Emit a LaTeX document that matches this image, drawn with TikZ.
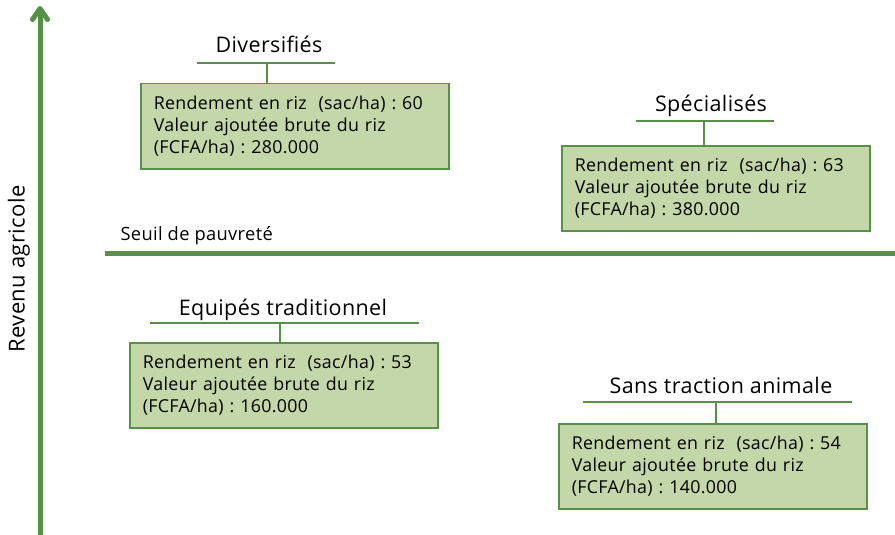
\documentclass[tikz,border=0pt]{standalone}
\usepackage{fontspec}
\setmainfont{Open Sans}[LetterSpace=1.8]
\usetikzlibrary{arrows.meta}
\definecolor{vert}{HTML}{559245}
\definecolor{fond}{HTML}{C4D7A8}
\frenchspacing
\tikzset{
  boite/.style={draw=vert, fill=fond, line width=1.5pt, anchor=north west, align=left,
    text width=282pt, inner xsep=13pt, minimum height=85pt, font=\fontsize{17.8}{22}\selectfont},
  titre/.style={anchor=base, font=\fontsize{21.5}{25}\selectfont},
  trait/.style={vert, line width=2.5pt},
  axe/.style={vert, line width=5pt}
}
\begin{document}
\begin{tikzpicture}[x=1pt,y=-1pt]
\useasboundingbox (0,0) rectangle (895,535);
\coordinate (bas) at (40,535);
\coordinate (haut) at (40,6);
\draw[axe, -{Straight Barb[length=11pt, width=15pt, round]}] (bas) -- (haut);
\node[rotate=90, font=\fontsize{22}{26}\selectfont] (revenu) at (19,269) {Revenu agricole};
\node[anchor=base west, font=\fontsize{18.3}{20}\selectfont] (seuil) at (117,240) {Seuil de pauvreté};
\coordinate (sg) at (105,253);
\coordinate (sd) at (895,253);
\draw[axe, line cap=butt] (sg) -- (sd);
\node[titre] (tdiv) at (269,53) {Diversifiés};
\coordinate (divg) at (197,63);
\coordinate (divd) at (335,63);
\coordinate (divm) at (267,63);
\draw[trait] (divg) -- (divd);
\node[boite] (div) at (140,83) {Rendement en riz\ \ (sac/ha) : 60\\Valeur ajoutée brute du riz\\(FCFA/ha) : 280.000};
\draw[trait] (divm) -- (divm |- div.north);
\node[titre] (tspe) at (711,112) {Spécialisés};
\coordinate (speg) at (636,121);
\coordinate (sped) at (774,121);
\coordinate (spem) at (704,121);
\draw[trait] (speg) -- (sped);
\node[boite] (spe) at (561,145) {Rendement en riz\ \ (sac/ha) : 63\\Valeur ajoutée brute du riz\\(FCFA/ha) : 380.000};
\draw[trait] (spem) -- (spem |- spe.north);
\node[titre] (tequ) at (283,315) {Equipés traditionnel};
\coordinate (equg) at (150,323);
\coordinate (equd) at (419,323);
\coordinate (equm) at (280,323);
\draw[trait] (equg) -- (equd);
\node[boite] (equ) at (129,342) {Rendement en riz\ \ (sac/ha) : 53\\Valeur ajoutée brute du riz\\(FCFA/ha) : 160.000};
\draw[trait] (equm) -- (equm |- equ.north);
\node[titre] (tsans) at (721,393) {Sans traction animale};
\coordinate (sansg) at (583,402);
\coordinate (sansd) at (852,402);
\coordinate (sansm) at (716,402);
\draw[trait] (sansg) -- (sansd);
\node[boite] (sans) at (558,423) {Rendement en riz\ \ (sac/ha) : 54\\Valeur ajoutée brute du riz\\(FCFA/ha) : 140.000};
\draw[trait] (sansm) -- (sansm |- sans.north);
\end{tikzpicture}
\end{document}
